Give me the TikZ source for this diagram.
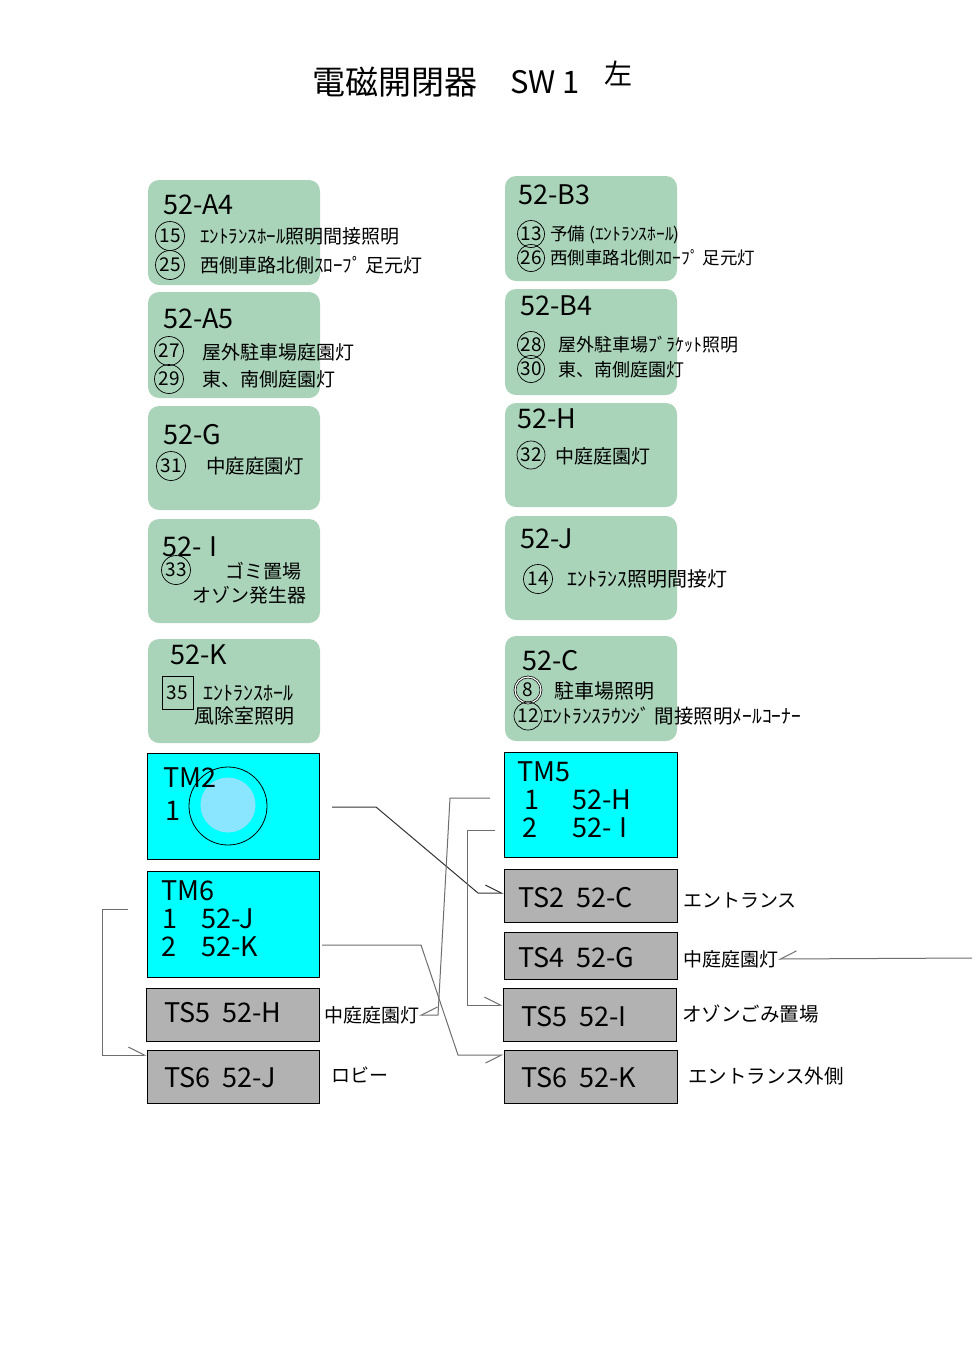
\documentclass[tikz,border=0pt]{standalone}
\usepackage{fontspec}
\setmainfont{Noto Sans CJK JP}
\usetikzlibrary{arrows.meta}
\definecolor{boxgreen}{RGB}{170,212,185}
\definecolor{boxgray}{RGB}{178,178,178}
\definecolor{boxcyan}{RGB}{0,255,255}
\definecolor{innerblue}{RGB}{138,230,255}
\definecolor{linegray}{RGB}{110,110,110}
\newcommand\fs[1]{\fontsize{#1}{#1}\selectfont}
\begin{document}
\begin{tikzpicture}[x=1pt,y=-1pt,
  greenbox/.style={fill=boxgreen, rounded corners=11pt, inner sep=0pt, minimum width=172pt},
  tmbox/.style={fill=boxcyan, draw=black, line width=0.8pt, inner sep=0pt, minimum width=172pt, minimum height=106pt},
  tsbox/.style={fill=boxgray, draw=black, line width=1pt, inner sep=0pt, minimum width=172pt, minimum height=53pt},
  head/.style={anchor=west, inner sep=0pt, font=\fs{27}},
  txt/.style={anchor=west, inner sep=0pt, font=\fs{19}},
  stxt/.style={anchor=west, inner sep=0pt, font=\fs{17.5}},
  lbl/.style={anchor=west, inner sep=0pt, font=\fs{19}},
  cnum/.style={circle, draw=black, line width=0.7pt, inner sep=0pt, minimum size=#1, font=\fs{19}},
  cnum/.default=27pt,
  conn/.style={draw=linegray, line width=1pt},
  barb/.style={-{Straight Barb[harpoon, length=16pt, width=16pt]}},
  barbs/.style={-{Straight Barb[harpoon, swap, length=16pt, width=16pt]}}
]
\fill[white] (0,0) rectangle (976,1366);
\useasboundingbox (0,0) rectangle (976,1366);

% title
\node[anchor=west, inner sep=0pt, font=\fs{33}] (t1) at (312,82) {電磁開閉器};
\node[anchor=west, inner sep=0pt, font=\fs{31}] (t2) at (510,82) {SW 1};
\node[anchor=west, inner sep=0pt, font=\fs{28}] (t3) at (604,73) {左};

% green boxes
\node[greenbox, minimum height=105pt] (gA4) at (234,232.5) {};
\node[greenbox, minimum height=106pt] (gA5) at (234,345) {};
\node[greenbox, minimum height=104pt] (gG) at (234,458) {};
\node[greenbox, minimum height=104pt] (gI) at (234,571) {};
\node[greenbox, minimum height=104pt] (gK) at (234,691) {};
\node[greenbox, minimum height=105pt] (gB3) at (591,228.5) {};
\node[greenbox, minimum height=106pt] (gB4) at (591,342) {};
\node[greenbox, minimum height=104pt] (gH) at (591,455) {};
\node[greenbox, minimum height=104pt] (gJ) at (591,568) {};
\node[greenbox, minimum height=105pt] (gC) at (591,688.5) {};

% 52-A4
\node[head] (hA4) at (163,205) {52-A4};
\node[cnum=29pt] (n15) at (170,236) {15};
\node[txt] (xA4a) at (200,236) {ｴﾝﾄﾗﾝｽﾎｰﾙ照明間接照明};
\node[cnum=29pt] (n25) at (170,265) {25};
\node[txt] (xA4b) at (200,265) {西側車路北側ｽﾛｰﾌﾟ 足元灯};
% 52-A5
\node[head] (hA5) at (163,319) {52-A5};
\node[cnum=29pt] (n27) at (169,351) {27};
\node[txt] (xA5a) at (202,352) {屋外駐車場庭園灯};
\node[cnum=29pt] (n29) at (169,379) {29};
\node[txt] (xA5b) at (202,379) {東、南側庭園灯};
% 52-G
\node[head] (hG) at (163,435) {52-G};
\node[cnum=29pt] (n31) at (171,466) {31};
\node[txt, font=\fs{19.5}] (xG) at (206,466) {中庭庭園灯};
% 52-I
\node[head] (hI) at (162,547) {52-\hspace{0.3em}I};
\node[cnum=29pt] (n33) at (176,570) {33};
\node[txt] (xIa) at (225,571) {ゴミ置場};
\node[txt] (xIb) at (192,595) {オゾン発生器};
% 52-K
\node[head] (hK) at (170,655) {52-K};
\node[draw=black, line width=0.7pt, inner sep=0pt, minimum width=31pt, minimum height=33pt, font=\fs{19}] (n35) at (177.5,692.5) {35};
\node[txt, font=\fs{20}] (xKa) at (203,693) {ｴﾝﾄﾗﾝｽﾎｰﾙ};
\node[txt, font=\fs{20}] (xKb) at (194,716) {風除室照明};

% 52-B3
\node[head] (hB3) at (518,195) {52-B3};
\node[cnum=27pt] (n13) at (531,234) {13};
\node[stxt] (xB3a) at (550,235) {予備 (ｴﾝﾄﾗﾝｽﾎｰﾙ)};
\node[cnum=27pt] (n26) at (531,258) {26};
\node[stxt] (xB3b) at (550,258) {西側車路北側ｽﾛｰﾌﾟ 足元灯};
% 52-B4
\node[head] (hB4) at (520,306) {52-B4};
\node[cnum=27pt] (n28) at (531,345) {28};
\node[txt, font=\fs{18}] (xB4a) at (558,345) {屋外駐車場ﾌﾞﾗｹｯﾄ照明};
\node[cnum=27pt] (n30) at (531,369) {30};
\node[txt, font=\fs{18}] (xB4b) at (558,370) {東、南側庭園灯};
% 52-H
\node[head] (hH) at (517,419) {52-H};
\node[cnum=28pt] (n32) at (531,455) {32};
\node[txt] (xH) at (555,456) {中庭庭園灯};
% 52-J
\node[head] (hJ) at (520,539) {52-J};
\node[cnum=29pt] (n14) at (538,579) {14};
\node[txt, font=\fs{20}] (xJ) at (567,579) {ｴﾝﾄﾗﾝｽ照明間接灯};
% 52-C
\node[head] (hC) at (522,661) {52-C};
\node[circle, draw=black, line width=0.7pt, double, double distance=1.2pt, inner sep=0pt, minimum size=26pt, font=\fs{19}] (n8) at (528,690) {8};
\node[txt, font=\fs{20}] (xCa) at (554,691) {駐車場照明};
\node[cnum=28pt] (n12) at (528,716) {12};
\node[txt, font=\fs{19.5}] (xCb) at (543,716) {ｴﾝﾄﾗﾝｽﾗｳﾝｼﾞ 間接照明ﾒｰﾙｺｰﾅｰ};

% TM boxes
\node[tmbox] (tm2) at (233,806) {};
\node[circle, fill=innerblue, inner sep=0pt, minimum size=55pt] (bulb) at (228,805) {};
\node[circle, draw=black, line width=0.8pt, inner sep=0pt, minimum size=78pt] (ring) at (228,806) {};
\node[head] (tm2a) at (163,778) {TM2};
\node[head] (tm2b) at (165,811) {1};

\node[tmbox] (tm6) at (233,924) {};
\node[head] (tm6a) at (161,891) {TM6};
\node[head] (tm6b) at (162,919) {1};
\node[head] (tm6c) at (201,919) {52-J};
\node[head] (tm6d) at (161,947) {2};
\node[head] (tm6e) at (201,947) {52-K};

\node[tmbox, minimum width=173pt, minimum height=105pt] (tm5) at (590.5,804.5) {};
\node[head] (tm5a) at (517,772) {TM5};
\node[head] (tm5b) at (524,800) {1};
\node[head] (tm5c) at (572,800) {52-H};
\node[head] (tm5d) at (522,828) {2};
\node[head] (tm5e) at (572,828) {52-\hspace{0.3em}I};

% TS boxes
\node[tsbox, minimum width=173pt] (ts5h) at (232.5,1014.5) {};
\node[head] (ts5ht) at (164,1013) {TS5\hspace{0.45em}52-H};
\node[tsbox] (ts6j) at (233,1076.5) {};
\node[head] (ts6jt) at (164,1078) {TS6\hspace{0.45em}52-J};
\node[tsbox, minimum width=173pt] (ts2) at (590.5,895.5) {};
\node[head] (ts2t) at (518,898) {TS2\hspace{0.45em}52-C};
\node[tsbox, minimum width=173pt, minimum height=47pt] (ts4) at (590.5,955.5) {};
\node[head] (ts4t) at (518,958) {TS4\hspace{0.45em}52-G};
\node[tsbox, minimum width=173pt] (ts5i) at (589.5,1014.5) {};
\node[head] (ts5it) at (521,1017) {TS5\hspace{0.45em}52-I};
\node[tsbox, minimum width=173pt] (ts6k) at (590.5,1076.5) {};
\node[head] (ts6kt) at (521,1078) {TS6\hspace{0.45em}52-K};

% labels
\node[lbl] (l5h) at (324,1015) {中庭庭園灯};
\node[lbl] (l6j) at (331,1075) {ロビー};
\node[lbl] (l2) at (683,901) {エントランス};
\node[lbl] (l4) at (683,959) {中庭庭園灯};
\node[lbl, font=\fs{19.5}] (l5i) at (682,1014) {オゾンごみ置場};
\node[lbl, font=\fs{19.5}] (l6k) at (688,1076) {エントランス外側};

% connectors
\coordinate (c1) at (332,807);
\coordinate (b1) at (478,893);
\draw[conn, draw=black!80, barb] (c1) -- (376,807) -- (b1) -- (b1 -| ts2.west);

\coordinate (c2) at (490,798);
\draw[conn, barbs] (c2) -- (450,798) -- (438,1015) -- (l5h.east);

\coordinate (c3) at (495,830);
\coordinate (b3) at (467,1005);
\draw[conn, barb] (c3) -- (467,830) -- (b3) -- (b3 -| ts5i.west);

\coordinate (c4) at (322,945);
\coordinate (b4) at (458,1055);
\draw[conn, barbs] (c4) -- (421,945) -- (b4) -- (b4 -| ts6k.west);

\coordinate (c5) at (128,909);
\coordinate (b5) at (102,1055);
\draw[conn, barb] (c5) -- (102,909) -- (b5) -- (b5 -| ts6j.west);

\coordinate (c6) at (972,958);
\draw[conn, barbs] (c6) -- (l4.east);
\end{tikzpicture}
\end{document}
